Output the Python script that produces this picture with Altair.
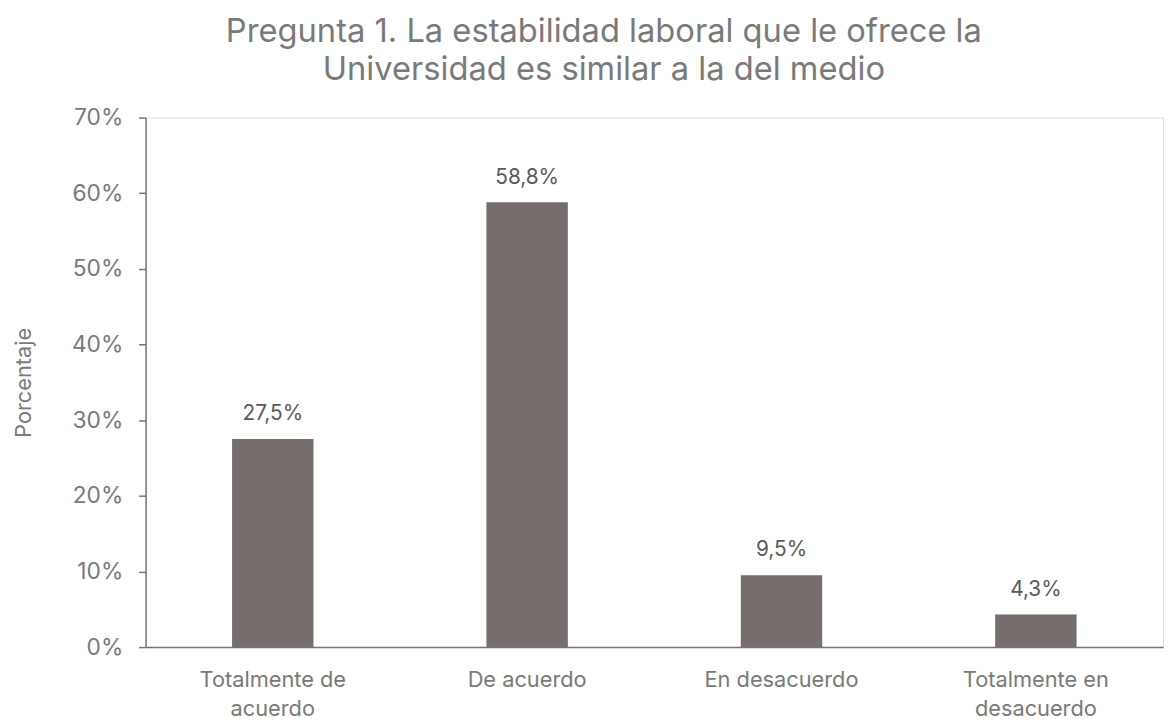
import altair as alt
import pandas as pd

categories = ["Totalmente de acuerdo", "De acuerdo", "En desacuerdo", "Totalmente en desacuerdo"]
values = [27.5, 58.8, 9.5, 4.3]

df = pd.DataFrame({"cat": categories, "pct": values})

FONT = "Inter"
TXT = "#7A7A7A"
BAR = "#766D6D"

label_expr = ("datum.label == 'Totalmente de acuerdo' ? ['Totalmente de', 'acuerdo'] : "
              "datum.label == 'Totalmente en desacuerdo' ? ['Totalmente en', 'desacuerdo'] : datum.label")

base = alt.Chart(df).encode(
    x=alt.X("cat:N", sort=categories, title=None,
            scale=alt.Scale(paddingInner=0.68, paddingOuter=0.34),
            axis=alt.Axis(labelExpr=label_expr, labelAngle=0, ticks=False,
                          labelPadding=23, labelLineHeight=29, labelFontSize=22,
                          labelColor=TXT, labelFont=FONT, domainColor="#7B7272",
                          domainWidth=1.5)),
    y=alt.Y("pct:Q", title="Porcentaje",
            scale=alt.Scale(domain=[0, 70]),
            axis=alt.Axis(values=[0, 10, 20, 30, 40, 50, 60, 70],
                          labelExpr="datum.value + '%'", grid=False,
                          tickSize=7, tickColor="#7B7272", tickWidth=1.5,
                          domainColor="#7B7272", domainWidth=1.5,
                          labelPadding=16, labelFontSize=23, labelColor=TXT,
                          labelFont=FONT, titleFont=FONT, titleFontSize=22,
                          titleColor=TXT, titleFontWeight="normal", titlePadding=36)),
)

bars = base.mark_bar(color=BAR)
labels = base.transform_calculate(
    lab="replace(format(datum.pct, '.1f'), '.', ',') + '%'"
).mark_text(baseline="bottom", dy=-15, fontSize=21, color="#5A5A5A", font=FONT).encode(
    text="lab:N")

chart = (bars + labels).properties(
    width=1028, height=535,
    title=alt.TitleParams(["Pregunta 1. La estabilidad laboral que le ofrece la",
                           "Universidad es similar a la del medio"],
                          fontSize=33, font=FONT, color=TXT, fontWeight="normal",
                          anchor="middle", frame="bounds", lineHeight=38, offset=20, dx=16),
).configure_view(stroke=None).configure(background="white")

chart.save("out.html", embed_options={"renderer": "svg", "actions": False})
